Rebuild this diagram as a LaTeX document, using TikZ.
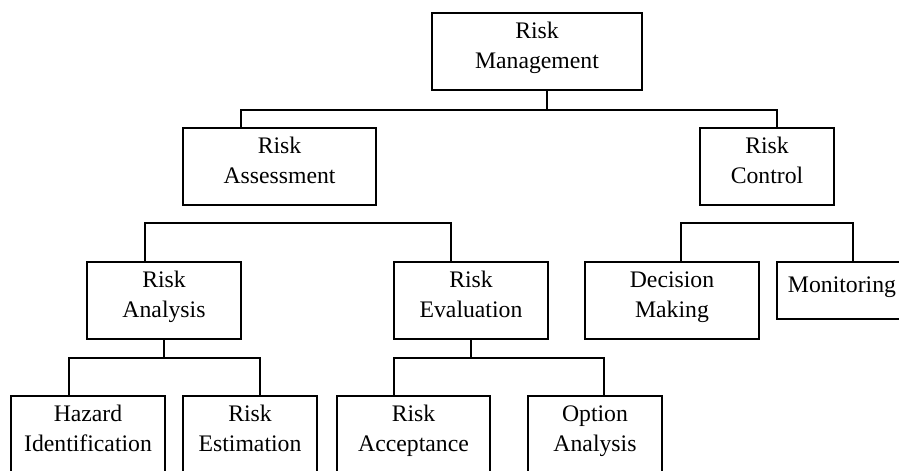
\documentclass[tikz,border=0pt]{standalone}
\usepackage{fontspec}
\setmainfont{Liberation Serif}
\tikzset{
  box/.style={draw, line width=1pt, align=center, inner sep=0pt,
    font=\fontsize{13.5}{17}\selectfont, minimum height=1.54cm,
    text depth=7pt},
  wire/.style={line width=0.9pt},
}
\begin{document}
\begin{tikzpicture}[x=0.02cm, y=-0.02cm]
  \useasboundingbox (0,0) rectangle (899,470);
  \clip (0,0) rectangle (899,470);
  % top
  \node[box, minimum width=4.2cm] (mgmt) at (537,51.5) {Risk\\Management};
  \node[box, minimum width=3.86cm] (assess) at (279.5,166.5) {Risk\\Assessment};
  \node[box, minimum width=2.68cm] (control) at (767,166.5) {Risk\\Control};
  % middle
  \node[box, minimum width=3.08cm] (analysis) at (164,300.5) {Risk\\Analysis};
  \node[box, minimum width=3.08cm] (evaluation) at (471,300.5) {Risk\\Evaluation};
  \node[box, minimum width=3.48cm] (decision) at (672,300.5) {Decision\\Making};
  \node[box, minimum width=2.6cm, minimum height=1.14cm] (monitor) at (842,290.5) {Monitoring};
  % bottom
  \node[box, minimum width=3.08cm] (hazard) at (88,434.5) {Hazard\\Identification};
  \node[box, minimum width=2.68cm] (estimate) at (250,434.5) {Risk\\Estimation};
  \node[box, minimum width=3.06cm] (accept) at (413.5,434.5) {Risk\\Acceptance};
  \node[box, minimum width=2.68cm] (option) at (595,434.5) {Option\\Analysis};
  % connectors
  \draw[wire] ([xshift=0.2cm]mgmt.south) -- ++(0,19) coordinate (jm)
    -| ([xshift=-0.77cm]assess.north);
  \draw[wire] (jm) -| ([xshift=0.2cm]control.north);
  \draw[wire] ([xshift=-0.38cm]analysis.north) -- ++(0,-38)
    -| ([xshift=-0.4cm]evaluation.north);
  \draw[wire] ([xshift=0.18cm]decision.north) -- ++(0,-38)
    -| ([xshift=0.22cm]monitor.north);
  \draw[wire] (analysis.south) -- ++(0,18) coordinate (ja)
    -| ([xshift=-0.38cm]hazard.north);
  \draw[wire] (ja) -| ([xshift=0.2cm]estimate.north);
  \draw[wire] (evaluation.south) -- ++(0,18) coordinate (je)
    -| ([xshift=-0.39cm]accept.north);
  \draw[wire] (je) -| ([xshift=0.18cm]option.north);
\end{tikzpicture}
\end{document}
